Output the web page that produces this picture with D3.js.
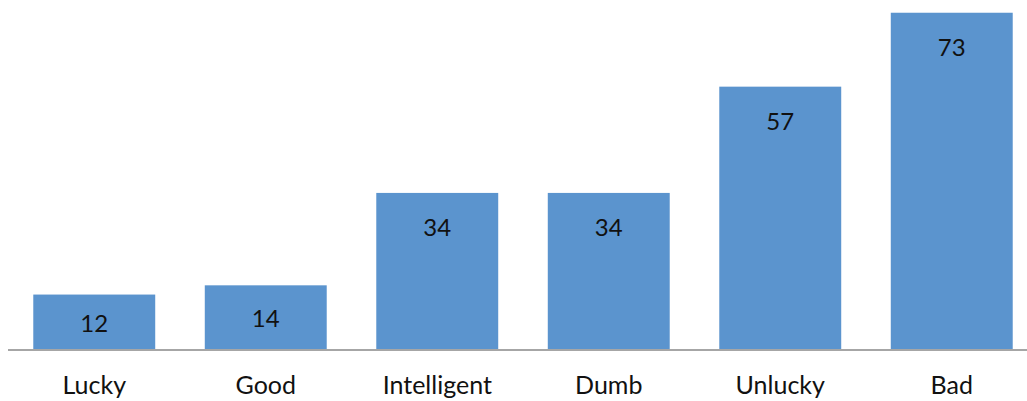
<!DOCTYPE html>
<html>
<head>
<meta charset="utf-8">
<script src="https://cdn.jsdelivr.net/npm/d3@7"></script>
<style>
  html, body { margin: 0; padding: 0; background: #fff; overflow: hidden; }
  svg { display: block; }
  text { font-family: Lato, "Open Sans", sans-serif; fill: #111; }
</style>
</head>
<body>
<svg id="chart" width="1027" height="401"></svg>
<script>
// Responses per descriptor
const categories = ["Lucky", "Good", "Intelligent", "Dumb", "Unlucky", "Bad"];
const counts = [12, 14, 34, 34, 57, 73];

const svg = d3.select("#chart");
const baseline = 350;

const x = d3.scaleBand()
  .domain(categories)
  .range([8.5, 1037.5])
  .paddingInner(0.289)
  .paddingOuter(0.1445);

const y = d3.scaleLinear()
  .domain([0, 75])
  .range([baseline, 3.5]);

// Bars
svg.append("g")
  .selectAll("rect")
  .data(categories)
  .join("rect")
  .attr("x", d => x(d))
  .attr("y", (d, i) => y(counts[i]))
  .attr("width", x.bandwidth())
  .attr("height", (d, i) => baseline - y(counts[i]))
  .attr("fill", "#5b94ce");

// Value labels inside the top of each bar
svg.append("g")
  .selectAll("text")
  .data(categories)
  .join("text")
  .attr("x", d => x(d) + x.bandwidth() / 2)
  .attr("y", (d, i) => {
    const top = y(counts[i]);
    return Math.min(top + 34, (top + baseline) / 2);
  })
  .attr("text-anchor", "middle")
  .attr("dominant-baseline", "central")
  .style("font-size", "24px")
  .text((d, i) => counts[i]);

// Category axis
const axis = svg.append("g")
  .attr("transform", `translate(0,${baseline})`)
  .call(d3.axisBottom(x).tickSize(0).tickPadding(0));
axis.select(".domain").attr("stroke", "#a6a6a6").attr("stroke-width", 2).attr("d", "M8,0H1027");
axis.selectAll(".tick text")
  .attr("y", 44)
  .attr("dy", 0)
  .style("font-size", "25px")
  .style("font-family", "Lato, 'Open Sans', sans-serif")
  .attr("fill", "#111");
</script>
</body>
</html>
